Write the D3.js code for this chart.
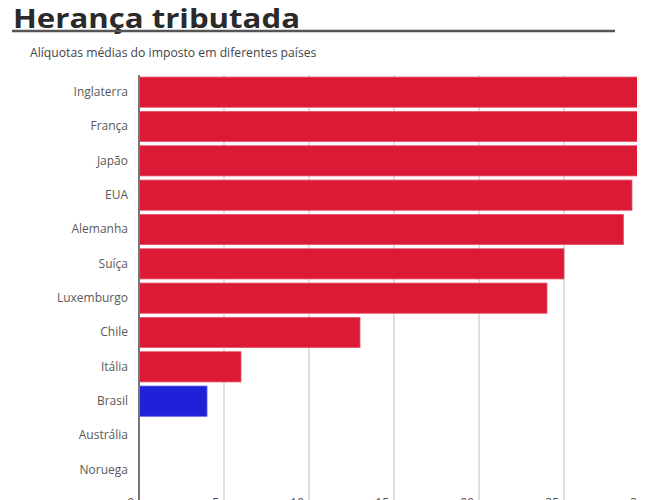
<!DOCTYPE html>
<html><head><meta charset="utf-8">
<script src="https://cdn.jsdelivr.net/npm/d3@7"></script>
<style>
html,body{margin:0;padding:0;background:#fff;overflow:hidden}
</style></head>
<body>
<svg id="chart" width="650" height="500"></svg>
<script>
const categories = ["Inglaterra","França","Japão","EUA","Alemanha","Suíça","Luxemburgo","Chile","Itália","Brasil","Austrália","Noruega"];
const values = [40, 35, 30, 29, 28.5, 25, 24, 13, 6, 4, 0, 0];
const highlight = ["Brasil"];
const ticks = [0, 5, 10, 15, 20, 25, 30];
const title = "Herança tributada";
const subtitle = "Alíquotas médias do imposto em diferentes países";

const svg = d3.select("#chart");
const font = "'Open Sans', sans-serif";

svg.append("text").attr("x", 13).attr("y", 28)
  .attr("font-family", font).attr("font-weight", 700).attr("font-size", 27)
  .attr("textLength", 287).attr("lengthAdjust", "spacingAndGlyphs")
  .attr("fill", "#2a2a2a").text(title);
svg.append("line").attr("x1", 12).attr("x2", 615).attr("y1", 31).attr("y2", 31)
  .attr("stroke", "#555").attr("stroke-width", 2.5);
svg.append("text").attr("x", 30).attr("y", 57)
  .attr("font-family", font).attr("font-size", 12.2)
  .attr("fill", "#444").text(subtitle);

const x = d3.scaleLinear().domain([0, 30]).range([139, 649]);
const y = d3.scaleBand().domain(categories).range([75, 487]).paddingInner(0.12).paddingOuter(0.06);

svg.append("defs").append("clipPath").attr("id", "clip")
  .append("rect").attr("x", 0).attr("y", 0).attr("width", 637).attr("height", 500);

const g = svg.append("g").attr("clip-path", "url(#clip)");

// gridlines
g.append("g").selectAll("line").data(ticks.filter(t => t > 0)).join("line")
  .attr("x1", d => x(d)).attr("x2", d => x(d))
  .attr("y1", 75).attr("y2", 500)
  .attr("stroke", "#d4d4d4").attr("stroke-width", 1.5);

// bars
g.append("g").selectAll("rect").data(categories).join("rect")
  .attr("x", x(0)).attr("y", d => y(d))
  .attr("width", (d, i) => x(values[i]) - x(0))
  .attr("height", y.bandwidth())
  .attr("fill", d => highlight.includes(d) ? "#2020d8" : "#dd1a36")
  .attr("stroke", d => highlight.includes(d) ? "#5a5ae8" : "#e8556a")
  .attr("stroke-width", 0.8);

// x axis tick labels (cut off at the bottom edge, as in the reference)
g.append("g").selectAll("text").data(ticks).join("text")
  .attr("x", d => x(d) - 5).attr("y", 507)
  .attr("text-anchor", "end")
  .attr("font-family", font).attr("font-size", 12).attr("fill", "#555")
  .text(d => d);

// y axis
const yAxis = svg.append("g").attr("transform", `translate(${x(0)},0)`)
  .call(d3.axisLeft(y).tickSize(0).tickPadding(11));
yAxis.select(".domain").attr("stroke", "#777").attr("stroke-width", 2)
  .attr("d", "M0,75V500");
yAxis.selectAll("text").attr("font-family", font).attr("font-size", 12).attr("fill", "#5a5a5a");
</script>
</body></html>
